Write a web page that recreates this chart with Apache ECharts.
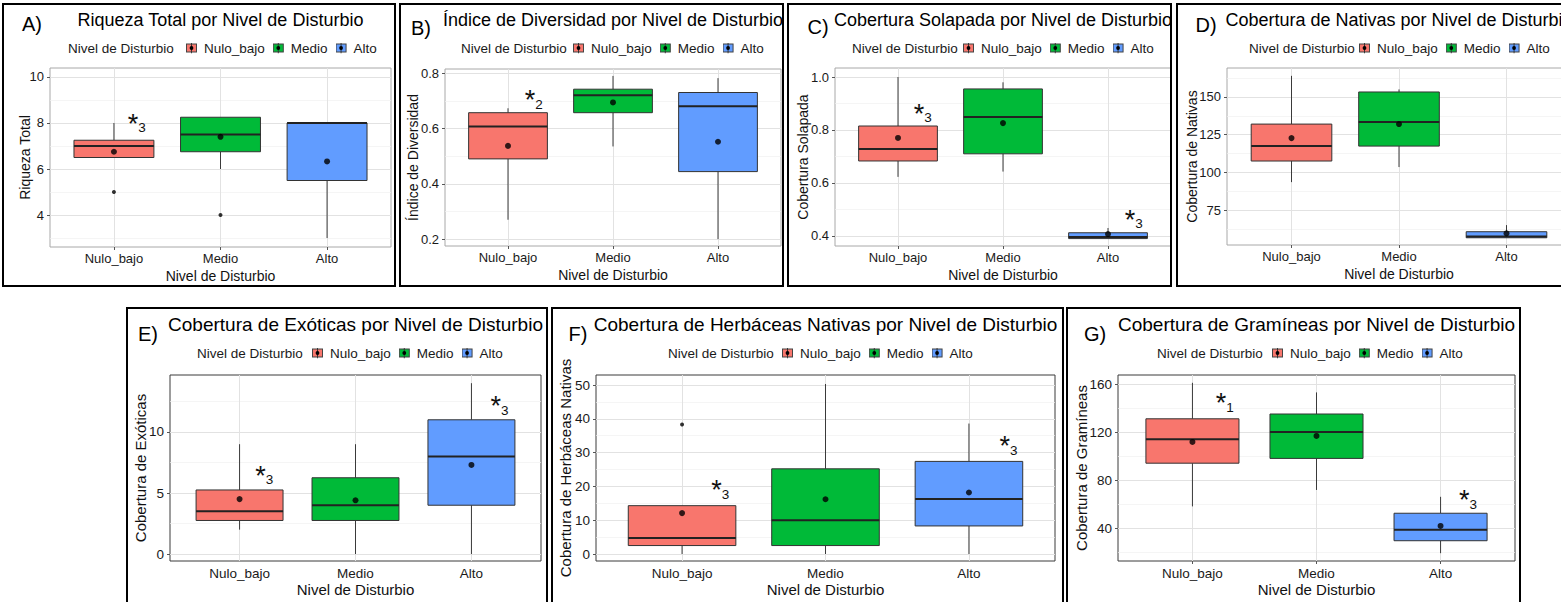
<!DOCTYPE html>
<html><head><meta charset="utf-8">
<script src="https://cdn.jsdelivr.net/npm/echarts@6/dist/echarts.min.js"></script>
<style>html,body{margin:0;padding:0;background:#fff;overflow:hidden}#c{width:1600px;height:602px}</style>
</head><body><div id="c"></div>
<script>
// ---------------- data ----------------
const categories = ['Nulo_bajo', 'Medio', 'Alto'];
const legendTitle = 'Nivel de Disturbio';
const xAxisTitle = 'Nivel de Disturbio';
const panelLabels = ['A)', 'B)', 'C)', 'D)', 'E)', 'F)', 'G)'];
const panelTitles = [
  'Riqueza Total por Nivel de Disturbio',
  'Índice de Diversidad por Nivel de Disturbio',
  'Cobertura Solapada por Nivel de Disturbio',
  'Cobertura de Nativas por Nivel de Disturbio',
  'Cobertura de Exóticas por Nivel de Disturbio',
  'Cobertura de Herbáceas Nativas por Nivel de Disturbio',
  'Cobertura de Gramíneas por Nivel de Disturbio'
];
const yAxisTitles = ['Riqueza Total', 'Índice de Diversidad', 'Cobertura Solapada', 'Cobertura de Nativas',
  'Cobertura de Exóticas', 'Cobertura de Herbáceas Nativas', 'Cobertura de Gramíneas'];

// box statistics per category (Nulo_bajo, Medio, Alto): [min, Q1, median, Q3, max]
// A) Riqueza Total
const riquezaBox = [[6.5, 6.5, 7.0, 7.25, 8], [6, 6.75, 7.5, 8.25, 8.25], [3, 5.5, 8, 8, 8]];
const riquezaMean = [6.75, 7.4, 6.33];
const riquezaOutliers = [['Nulo_bajo', 5], ['Medio', 4]];
const riquezaStars = [[1.18, 8.22, '3']];
const riquezaRange = [2.61, 10.39];
const riquezaTickLabels = ['4', '6', '8', '10'];
const riquezaMinor = [3, 5, 7, 9];

// B) Índice de Diversidad
const diversidadBox = [[0.27, 0.49, 0.607, 0.657, 0.673], [0.535, 0.657, 0.72, 0.742, 0.79], [0.2, 0.444, 0.68, 0.73, 0.782]];
const diversidadMean = [0.537, 0.694, 0.552];
const diversidadOutliers = [];
const diversidadStars = [[1.21, 0.724, '2']];
const diversidadRange = [0.175, 0.815];
const diversidadTickLabels = ['0.2', '0.4', '0.6', '0.8'];
const diversidadMinor = [0.3, 0.5, 0.7];

// C) Cobertura Solapada
const solapadaBox = [[0.623, 0.683, 0.728, 0.815, 1.0], [0.643, 0.71, 0.849, 0.955, 0.98], [0.39, 0.39, 0.396, 0.412, 0.43]];
const solapadaMean = [0.77, 0.826, 0.407];
const solapadaOutliers = [];
const solapadaStars = [[1.2, 0.883, '3'], [3.21, 0.483, '3']];
const solapadaRange = [0.362, 1.034];
const solapadaTickLabels = ['0.4', '0.6', '0.8', '1.0'];
const solapadaMinor = [0.5, 0.7, 0.9];

// D) Cobertura de Nativas
const nativasBox = [[93.5, 107.5, 117.4, 132, 164], [103.5, 117.4, 133.4, 153.3, 155], [56.6, 56.6, 57.5, 60.6, 65]];
const nativasMean = [122.7, 132, 59.5];
const nativasOutliers = [];
const nativasStars = [];
const nativasRange = [51.8, 169.2];
const nativasTickLabels = ['75', '100', '125', '150'];
const nativasMinor = [62.5, 87.5, 112.5, 137.5, 162.5];

// E) Cobertura de Exóticas
const exoticasBox = [[2, 2.75, 3.5, 5.25, 9], [0, 2.75, 4, 6.25, 9], [0, 4, 8, 11, 14]];
const exoticasMean = [4.5, 4.4, 7.3];
const exoticasOutliers = [];
const exoticasStars = [[1.18, 6.9, '3'], [3.21, 12.6, '3']];
const exoticasRange = [-0.57, 14.67];
const exoticasTickLabels = ['0', '5', '10'];
const exoticasMinor = [2.5, 7.5, 12.5];

// F) Cobertura de Herbáceas Nativas
const herbaceasBox = [[0, 2.5, 4.7, 14.3, 14.3], [0, 2.5, 10, 25.2, 50.3], [0, 8.3, 16.3, 27.4, 38.6]];
const herbaceasMean = [12.1, 16.2, 18.2];
const herbaceasOutliers = [['Nulo_bajo', 38.3]];
const herbaceasStars = [[1.24, 20.7, '3'], [3.25, 33.7, '3']];
const herbaceasRange = [-2.07, 52.96];
const herbaceasTickLabels = ['0', '10', '20', '30', '40', '50'];
const herbaceasMinor = [5, 15, 25, 35, 45];

// G) Cobertura de Gramíneas
const gramineasBox = [[58, 94, 114, 131, 161], [71.7, 98, 120, 135, 153], [19, 29.4, 38.6, 52.3, 66]];
const gramineasMean = [111.7, 116.7, 41.7];
const gramineasOutliers = [];
const gramineasStars = [[1.23, 149, '1'], [3.19, 68, '3']];
const gramineasRange = [12.5, 167.5];
const gramineasTickLabels = ['40', '80', '120', '160'];
const gramineasMinor = [20, 60, 100, 140];

// ---------------- assembly ----------------
const panels = [
  { box: riquezaBox, mean: riquezaMean, out: riquezaOutliers, stars: riquezaStars, range: riquezaRange, ticks: riquezaTickLabels, minor: riquezaMinor },
  { box: diversidadBox, mean: diversidadMean, out: diversidadOutliers, stars: diversidadStars, range: diversidadRange, ticks: diversidadTickLabels, minor: diversidadMinor },
  { box: solapadaBox, mean: solapadaMean, out: solapadaOutliers, stars: solapadaStars, range: solapadaRange, ticks: solapadaTickLabels, minor: solapadaMinor },
  { box: nativasBox, mean: nativasMean, out: nativasOutliers, stars: nativasStars, range: nativasRange, ticks: nativasTickLabels, minor: nativasMinor },
  { box: exoticasBox, mean: exoticasMean, out: exoticasOutliers, stars: exoticasStars, range: exoticasRange, ticks: exoticasTickLabels, minor: exoticasMinor },
  { box: herbaceasBox, mean: herbaceasMean, out: herbaceasOutliers, stars: herbaceasStars, range: herbaceasRange, ticks: herbaceasTickLabels, minor: herbaceasMinor },
  { box: gramineasBox, mean: gramineasMean, out: gramineasOutliers, stars: gramineasStars, range: gramineasRange, ticks: gramineasTickLabels, minor: gramineasMinor }
];

// layout (pixels)
const layout = [
  { frame: [3, 4, 392, 282], grid: [50, 68, 341, 179], label: [32, 24], legend: [68, 48], keys: 186, yGap: 18, row: 0 },
  { frame: [400, 4, 383, 282], grid: [445, 69, 336, 177], label: [421, 28], legend: [461, 48], keys: 573, yGap: 25, row: 0 },
  { frame: [788, 4, 383, 282], grid: [835, 68, 336, 178], label: [818, 27], legend: [852, 48], keys: 963, yGap: 25, row: 0 },
  { frame: [1177, 4, 392, 282], grid: [1227, 68, 344, 177], label: [1206, 25], legend: [1249, 48], keys: 1359, yGap: 28, row: 0 },
  { frame: [127, 308, 420, 300], grid: [170, 375, 371, 186], label: [148, 334], legend: [197, 353], keys: 312, yGap: 22.5, row: 1 },
  { frame: [552, 308, 511, 300], grid: [596, 375, 459, 186], label: [578, 334], legend: [668, 353], keys: 782, yGap: 23.5, row: 1 },
  { frame: [1067, 308, 453, 300], grid: [1118, 375, 397, 186], label: [1095, 334], legend: [1157, 353], keys: 1272, yGap: 29.5, row: 1 }
];
const rowStyle = [
  { titleY: 20, title: 18, legend: 13.5, tick: 13, axisTitle: 14, xGap: 22, plotBorder: '#a8a8a8' },
  { titleY: 324, title: 19, legend: 13.5, tick: 13.5, axisTitle: 15, xGap: 20.5, plotBorder: '#3a3a3a' }
];
const colors = { 'Nulo_bajo': '#F8766D', 'Medio': '#00BA38', 'Alto': '#619CFF' };
const FONT = '"Liberation Sans", Arial, sans-serif';

function keyIcon(color) {
  const svg = '<svg xmlns="http://www.w3.org/2000/svg" width="13" height="11" viewBox="0 0 13 11">' +
    '<line x1="5.5" y1="0" x2="5.5" y2="11" stroke="#333" stroke-width="1"/>' +
    '<rect x="0.5" y="1.5" width="10" height="8" fill="' + color + '" stroke="#444" stroke-width="1"/>' +
    '<line x1="5.5" y1="1.5" x2="5.5" y2="9.5" stroke="#333" stroke-width="1"/>' +
    '<circle cx="5.5" cy="5.5" r="1.9" fill="#000"/></svg>';
  return 'image://data:image/svg+xml;charset=utf-8,' + encodeURIComponent(svg);
}

function renderBox(params, api) {
  const x = api.value(0);
  const fill = api.visual('color');
  const half = api.size([0.75, 0])[0] / 2;
  const pMin = api.coord([x, api.value(1)]);
  const pQ1 = api.coord([x, api.value(2)]);
  const pMed = api.coord([x, api.value(3)]);
  const pQ3 = api.coord([x, api.value(4)]);
  const pMax = api.coord([x, api.value(5)]);
  const cx = pMed[0];
  const ln = (x1, y1, x2, y2, w, c) => ({ type: 'line', shape: { x1, y1, x2, y2 }, style: { stroke: c, lineWidth: w } });
  return {
    type: 'group', children: [
      ln(cx, pQ3[1], cx, pMax[1], 1, '#3a3a3a'),
      ln(cx, pQ1[1], cx, pMin[1], 1, '#3a3a3a'),
      { type: 'rect', shape: { x: cx - half, y: pQ3[1], width: 2 * half, height: pQ1[1] - pQ3[1] }, style: { fill: fill, stroke: '#333', lineWidth: 1 } },
      ln(cx - half, pMed[1], cx + half, pMed[1], 2, '#222')
    ]
  };
}

function starRenderer(stars) {
  return function (params, api) {
    const p = api.coord([api.value(0), api.value(1)]);
    const sub = stars[params.dataIndex][2];
    return {
      type: 'group', children: [
        { type: 'text', x: p[0], y: p[1] + 6, style: { text: '*', fontSize: 27, fontFamily: FONT, fill: '#111', align: 'center', verticalAlign: 'middle' } },
        { type: 'text', x: p[0] + 9, y: p[1] + 10, style: { text: sub, fontSize: 13.5, fontFamily: FONT, fill: '#111', align: 'center', verticalAlign: 'middle' } }
      ]
    };
  };
}

const option = {
  backgroundColor: '#ffffff',
  animation: false,
  grid: [], xAxis: [], yAxis: [], series: [], legend: [], graphic: []
};

panels.forEach((P, i) => {
  const L = layout[i];
  const R = rowStyle[L.row];
  const tickVals = P.ticks.map(Number);
  option.grid.push({ left: L.grid[0], top: L.grid[1], width: L.grid[2], height: L.grid[3], show: true, borderColor: R.plotBorder, borderWidth: 1, backgroundColor: '#fff', containLabel: false });
  option.xAxis.push({
    type: 'value', gridIndex: i, min: 0.4, max: 3.6,
    name: xAxisTitle, nameLocation: 'middle', nameGap: R.xGap, nameMoveOverlap: false,
    nameTextStyle: { fontSize: R.axisTitle, fontFamily: FONT, color: '#111' },
    axisLine: { show: false }, splitLine: { show: false },
    axisTick: { show: true, customValues: [1, 2, 3], length: 3, lineStyle: { color: '#555' } },
    axisLabel: { customValues: [1, 2, 3], margin: 5, fontSize: R.tick, fontFamily: FONT, color: '#1a1a1a', formatter: v => categories[Math.round(v) - 1] || '' }
  });
  option.yAxis.push({
    type: 'value', gridIndex: i, min: P.range[0], max: P.range[1],
    name: yAxisTitles[i], nameLocation: 'middle', nameGap: L.yGap, nameRotate: 90, nameMoveOverlap: false,
    nameTextStyle: { fontSize: R.axisTitle, fontFamily: FONT, color: '#111' },
    axisLine: { show: false }, splitLine: { show: false },
    axisTick: { show: true, customValues: tickVals, length: 3, lineStyle: { color: '#555' } },
    axisLabel: {
      customValues: tickVals, margin: 6, fontSize: R.tick, fontFamily: FONT, color: '#1a1a1a',
      formatter: v => { const k = tickVals.findIndex(t => Math.abs(t - v) < 1e-9); return k >= 0 ? P.ticks[k] : ''; }
    }
  });
  // grid lines + mean points
  const gl = [];
  P.minor.forEach(v => gl.push({ yAxis: v, lineStyle: { color: '#f1f1f1', width: 0.7, type: 'solid' } }));
  tickVals.forEach(v => gl.push({ yAxis: v, lineStyle: { color: '#e2e2e2', width: 1, type: 'solid' } }));
  [1, 2, 3].forEach(v => gl.push({ xAxis: v, lineStyle: { color: '#e2e2e2', width: 1, type: 'solid' } }));
  // boxes, one series per category
  categories.forEach((c, k) => {
    option.series.push({
      type: 'custom', name: c, xAxisIndex: i, yAxisIndex: i, z: 3,
      itemStyle: { color: colors[c] },
      renderItem: renderBox,
      encode: { x: 0, y: [1, 2, 3, 4, 5] },
      data: [[k + 1].concat(P.box[k])]
    });
  });
  option.series.push({
    type: 'scatter', name: 'Media', xAxisIndex: i, yAxisIndex: i, z: 4,
    symbol: 'circle', symbolSize: 6, itemStyle: { color: '#000' }, silent: true,
    data: P.mean.map((v, k) => [k + 1, v]),
    markLine: { silent: true, z: 1, symbol: ['none', 'none'], label: { show: false }, animation: false, data: gl }
  });
  if (P.out.length) {
    option.series.push({
      type: 'scatter', name: 'Atípicos', xAxisIndex: i, yAxisIndex: i, z: 4,
      symbol: 'circle', symbolSize: 4, itemStyle: { color: '#000' }, silent: true,
      data: P.out.map(o => [categories.indexOf(o[0]) + 1, o[1]])
    });
  }
  if (P.stars.length) {
    option.series.push({
      type: 'custom', name: 'Significancia', xAxisIndex: i, yAxisIndex: i, z: 5, silent: true,
      renderItem: starRenderer(P.stars), encode: { x: 0, y: 1 },
      data: P.stars.map(s => [s[0], s[1]])
    });
  }
  option.legend.push({
    left: L.keys, top: L.legend[1] - 7, orient: 'horizontal', padding: 0, itemGap: 8,
    itemWidth: 13, itemHeight: 11, selectedMode: false,
    textStyle: { fontSize: R.legend, fontFamily: FONT, color: '#1a1a1a' },
    data: categories.map(c => ({ name: c, icon: keyIcon(colors[c]) }))
  });
  // texts and frames
  option.graphic.push(
    { type: 'rect', z: 100, silent: true, shape: { x: L.frame[0], y: L.frame[1], width: L.frame[2], height: L.frame[3] }, style: { fill: 'none', stroke: '#000', lineWidth: 2 } },
    { type: 'text', z: 100, x: L.label[0], y: L.label[1], style: { text: panelLabels[i], fontSize: 20, fontFamily: FONT, fill: '#000', align: 'center', verticalAlign: 'middle' } },
    { type: 'text', z: 100, x: L.grid[0] + L.grid[2] / 2, y: R.titleY, style: { text: panelTitles[i], fontSize: R.title, fontFamily: FONT, fill: '#000', align: 'center', verticalAlign: 'middle' } },
    { type: 'text', z: 100, x: L.legend[0], y: L.legend[1], style: { text: legendTitle, fontSize: R.legend, fontFamily: FONT, fill: '#1a1a1a', align: 'left', verticalAlign: 'middle' } }
  );
});

const chart = echarts.init(document.getElementById('c'), null, { renderer: 'svg', width: 1600, height: 602 });
chart.setOption(option);
</script>
</body></html>
